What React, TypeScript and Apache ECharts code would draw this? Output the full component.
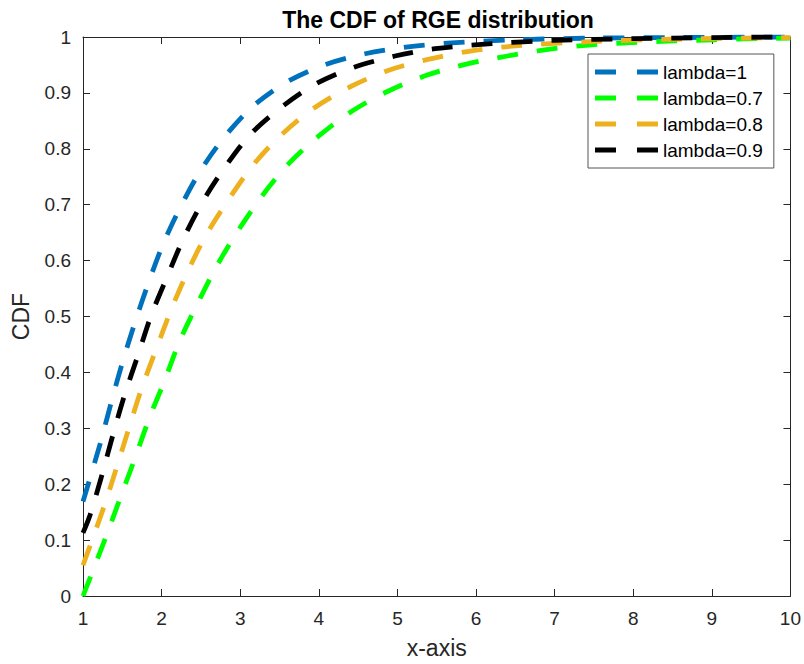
import React, { useEffect, useRef } from "react";
import * as echarts from "echarts";

const seriesNames = ["lambda=1", "lambda=0.7", "lambda=0.8", "lambda=0.9"];
const seriesColors = ["#0072BD", "#00FF00", "#EDB120", "#000000"];

const blueData: [number, number][] = [
  [1, 0.169], [1.22, 0.273], [1.36, 0.347], [1.5, 0.417], [1.66, 0.489], [1.83, 0.559],
  [2.02, 0.63], [2.24, 0.696], [2.5, 0.762], [2.81, 0.823], [3.17, 0.877], [3.6, 0.92],
  [4.07, 0.95], [4.59, 0.97], [5.11, 0.982], [5.64, 0.989], [6.5, 0.995], [7.5, 0.998],
  [8.5, 0.999], [10, 1.0],
];
const greenData: [number, number][] = [
  [1, 0], [1.29, 0.105], [1.48, 0.178], [1.66, 0.246], [1.84, 0.317], [2.04, 0.386],
  [2.23, 0.456], [2.46, 0.524], [2.7, 0.59], [2.98, 0.655], [3.28, 0.716], [3.62, 0.774],
  [4, 0.823], [4.43, 0.868], [4.88, 0.903], [5.38, 0.932], [5.89, 0.952], [6.4, 0.966],
  [6.92, 0.978], [7.47, 0.986], [7.98, 0.99], [8.51, 0.993], [9.03, 0.995], [9.56, 0.997],
  [10, 0.998],
];
const orangeData: [number, number][] = [
  [1, 0.055], [1.27, 0.161], [1.43, 0.231], [1.59, 0.303], [1.75, 0.373], [1.94, 0.445],
  [2.13, 0.515], [2.34, 0.583], [2.58, 0.649], [2.86, 0.711], [3.17, 0.772], [3.53, 0.826],
  [3.94, 0.873], [4.4, 0.911], [4.88, 0.94], [5.39, 0.96], [5.89, 0.974], [6.5, 0.984],
  [7.5, 0.992], [8.5, 0.996], [10, 0.999],
];
const blackData: [number, number][] = [
  [1, 0.113], [1.09, 0.145], [1.24, 0.216], [1.38, 0.288], [1.53, 0.36], [1.7, 0.431],
  [1.87, 0.503], [2.07, 0.571], [2.28, 0.64], [2.52, 0.705], [2.81, 0.768], [3.13, 0.826],
  [3.52, 0.874], [3.96, 0.916], [4.45, 0.946], [4.97, 0.966], [5.48, 0.979], [6.2, 0.988],
  [7, 0.994], [8, 0.997], [9, 0.999], [10, 1.0],
];
const allData = [blueData, greenData, orangeData, blackData];

const FONT = "'Liberation Sans', Arial, Helvetica, sans-serif";
const AXIS_COLOR = "#262626";

export default function App() {
  const ref = useRef<HTMLDivElement>(null);
  useEffect(() => {
    if (!ref.current) return;
    const chart = echarts.init(ref.current, undefined, { renderer: "svg" });
    const axisCommon = {
      axisLine: { show: true, onZero: false, lineStyle: { color: AXIS_COLOR, width: 1 } },
      axisTick: { show: true, inside: true, length: 7, lineStyle: { color: AXIS_COLOR } },
      splitLine: { show: false },
    };
    chart.setOption({
      animation: false,
      backgroundColor: "#ffffff",
      textStyle: { fontFamily: FONT },
      title: {
        text: "The CDF of RGE distribution",
        left: 438,
        textAlign: "center",
        top: 8,
        padding: 0,
        textStyle: { fontSize: 23, fontWeight: "bold", color: "#000", fontFamily: FONT },
      },
      grid: { left: 83, right: 11, top: 37, bottom: 67, containLabel: false },
      legend: {
        left: 588,
        top: 54,
        orient: "vertical",
        backgroundColor: "#ffffff",
        borderColor: "#555555",
        borderWidth: 1,
        padding: [8, 11, 8, 7],
        itemWidth: 63,
        itemHeight: 5,
        itemGap: 6,
        icon: "path://M0,0H21V5H0Z M42,0H63V5H42Z",
        symbolKeepAspect: false,
        textStyle: { fontSize: 19, color: "#000", fontFamily: FONT, lineHeight: 20 },
        data: seriesNames.map((n, i) => ({
          name: n,
          itemStyle: { color: seriesColors[i] },
        })),
      },
      xAxis: [
        {
          type: "value",
          min: 1,
          max: 10,
          interval: 1,
          position: "bottom",
          name: "x-axis",
          nameLocation: "middle",
          nameGap: 40,
          nameTextStyle: { fontSize: 23, color: AXIS_COLOR, fontFamily: FONT },
          axisLabel: { fontSize: 19, color: AXIS_COLOR, margin: 13, fontFamily: FONT },
          ...axisCommon,
        },
        {
          type: "value",
          min: 1,
          max: 10,
          interval: 1,
          position: "top",
          axisLabel: { show: false },
          ...axisCommon,
        },
      ],
      yAxis: [
        {
          type: "value",
          min: 0,
          max: 1,
          interval: 0.1,
          position: "left",
          name: "CDF",
          nameLocation: "middle",
          nameGap: 51,
          nameTextStyle: { fontSize: 23, color: AXIS_COLOR, fontFamily: FONT },
          axisLabel: { fontSize: 19, color: AXIS_COLOR, margin: 12, fontFamily: FONT },
          ...axisCommon,
        },
        {
          type: "value",
          min: 0,
          max: 1,
          interval: 0.1,
          position: "right",
          axisLabel: { show: false },
          ...axisCommon,
        },
      ],
      series: allData.map((d, i) => ({
        type: "line",
        name: seriesNames[i],
        data: d,
        xAxisIndex: 0,
        yAxisIndex: 0,
        showSymbol: false,
        symbol: "none",
        smooth: 0.3,
        clip: false,
        color: seriesColors[i],
        itemStyle: { color: seriesColors[i] },
        lineStyle: { color: seriesColors[i], width: 4.8, type: [21, 19], cap: "butt" },
      })),
    });
    return () => chart.dispose();
  }, []);
  return (
    <div
      ref={ref}
      style={{ position: "fixed", left: 0, top: 0, width: 804, height: 664 }}
    />
  );
}
